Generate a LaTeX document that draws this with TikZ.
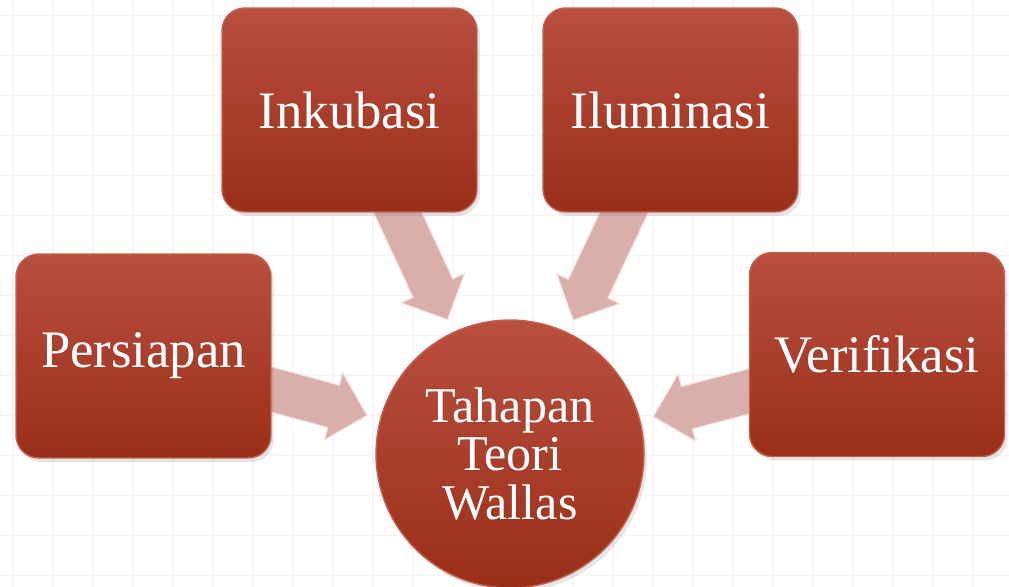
\documentclass[tikz,border=0pt]{standalone}
\usepackage{fontspec}
\setmainfont{Liberation Serif}
\usetikzlibrary{calc,shadows,backgrounds}
\definecolor{boxtop}{HTML}{B84F3F}
\definecolor{boxbot}{HTML}{9A2F18}
\definecolor{boxedge}{HTML}{C46352}
\definecolor{pinkfill}{HTML}{D9AEAB}
\definecolor{pinkedge}{HTML}{F4E4E3}
\definecolor{gridline}{HTML}{F6F6F6}
\tikzset{
  stage/.style={draw=boxedge,line width=.8pt,top color=boxtop,bottom color=boxbot,
                rounded corners=4.5mm,minimum width=51mm,minimum height=40.8mm,
                align=center,text=white,font=\fontsize{30}{36}\selectfont,
                drop shadow={opacity=.2,shadow xshift=.6mm,shadow yshift=-.8mm}},
  hubnode/.style={circle,draw=boxedge,line width=.8pt,top color=boxtop,bottom color=boxbot,
                  minimum size=53.6mm,inner sep=0pt,align=center,text=white,
                  font=\fontsize{28.5}{27.6}\selectfont,
                  drop shadow={opacity=.2,shadow xshift=.6mm,shadow yshift=-.8mm}},
  bigarrow/.style={draw=pinkedge,line width=.7pt,fill=pinkfill,line join=miter,
    to path={($(\tikztostart)!4.4mm!90:(\tikztotarget)$)
      -- ($(\tikztotarget)!8.26mm!-32.2:(\tikztostart)$)
      -- ($(\tikztotarget)!9.9mm!-45:(\tikztostart)$)
      -- (\tikztotarget)
      -- ($(\tikztotarget)!9.9mm!45:(\tikztostart)$)
      -- ($(\tikztotarget)!8.26mm!32.2:(\tikztostart)$)
      -- ($(\tikztostart)!4.4mm!-90:(\tikztotarget)$) -- cycle}},
  gridrule/.style={draw=gridline,line width=.6pt},
}

\begin{document}
\begin{tikzpicture}[x=0.02cm,y=-0.02cm]
  \useasboundingbox (0,0) rectangle (1009,587);
  % stages of Wallas
  \node[hubnode] (hub) at (510,454) {Tahapan\\Teori\\Wallas};
  \node[stage] (persiapan) at (143.5,356) {Persiapan};
  \node[stage] (inkubasi) at (349.5,110) {Inkubasi};
  \node[stage] (iluminasi) at (670.5,110) {Iluminasi};
  \node[stage] (verifikasi) at (877,354.5) {Verifikasi};
  % arrow ends
  \coordinate (persiapan-out) at ([xshift=-3.4mm,yshift=-5.8mm]persiapan.east);
  \coordinate (inkubasi-out) at ([xshift=8mm,yshift=3.6mm]inkubasi.south);
  \coordinate (iluminasi-out) at ([xshift=-7.6mm,yshift=3.6mm]iluminasi.south);
  \coordinate (verifikasi-out) at ([xshift=3.8mm,yshift=-6.4mm]verifikasi.west);
  \foreach \s in {persiapan,inkubasi,iluminasi,verifikasi}
    \coordinate (\s-in) at ($(hub)!2.96cm!(\s-out)$);
  \begin{scope}[on background layer]
    \foreach \x in {13,53,...,1009} \draw[gridrule] (\x,0) -- (\x,587);
    \foreach \y in {15,55,...,587} \draw[gridrule] (0,\y) -- (1009,\y);
    \foreach \s in {persiapan,inkubasi,iluminasi,verifikasi}
      \draw[bigarrow] (\s-out) to (\s-in);
  \end{scope}
\end{tikzpicture}
\end{document}
